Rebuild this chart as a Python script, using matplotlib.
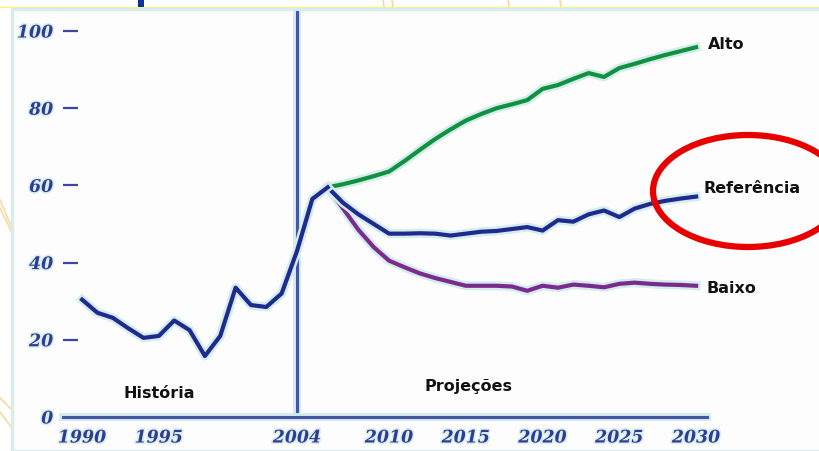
import matplotlib
matplotlib.use("Agg")
import matplotlib.pyplot as plt
import matplotlib.patheffects as pe
from matplotlib.patches import Ellipse, Rectangle
from matplotlib.lines import Line2D

# ---- data ----
hist_years = list(range(1990, 2007))
hist_vals = [30.4, 27.0, 25.7, 23.0, 20.5, 21.0, 25.0, 22.5, 15.8, 21.0,
             33.5, 29.0, 28.5, 32.0, 43.0, 56.5, 59.5]

proj_years = list(range(2006, 2031))
alto = [59.5, 60.3, 61.3, 62.4, 63.6, 66.3, 69.2, 72.0, 74.5, 76.8,
        78.5, 80.0, 81.0, 82.1, 85.0, 86.0, 87.6, 89.1, 88.1, 90.4,
        91.5, 92.7, 93.8, 94.8, 95.8]
referencia = [59.5, 55.5, 52.5, 50.0, 47.5, 47.5, 47.6, 47.5, 47.0, 47.5,
              48.0, 48.2, 48.7, 49.2, 48.3, 51.0, 50.6, 52.5, 53.5, 51.8,
              54.0, 55.2, 56.0, 56.6, 57.1]
baixo = [59.5, 54.0, 48.5, 44.0, 40.5, 38.8, 37.2, 36.0, 35.0, 34.0,
         34.0, 34.0, 33.8, 32.7, 34.0, 33.5, 34.3, 34.0, 33.6, 34.5,
         34.8, 34.5, 34.3, 34.2, 34.0]

xtick_years = [1990, 1995, 2004, 2010, 2015, 2020, 2025, 2030]
ytick_vals = [0, 20, 40, 60, 80, 100]
split_year = 2004

series_labels = ["Alto", "Referência", "Baixo"]
period_labels = ["História", "Projeções"]

# ---- figure ----
W, H = 819, 451
fig = plt.figure(figsize=(W / 100, H / 100), dpi=100)
fig.patch.set_facecolor("white")

def fx(px):
    return px / W

def fy(py):
    return 1 - py / H

# slide decorations behind the chart panel
deco = "#f8d8a0"
for (x0, y0, x1, y1) in [(0, 200, 12, 228), (0, 208, 12, 233), (0, 398, 12, 410),
                         (0, 412, 12, 428), (383, 0, 384, 7), (392, 0, 393, 7),
                         (508, 0, 509, 7), (560, 0, 561, 7)]:
    fig.add_artist(Line2D([fx(x0), fx(x1)], [fy(y0), fy(y1)], color=deco, lw=1.2,
                          zorder=-10))
fig.add_artist(Line2D([fx(0), fx(W)], [fy(7), fy(7)], color="#fff27a", lw=1.0, zorder=-10))
fig.add_artist(Rectangle((fx(138), fy(7)), fx(6), 7 / H, color="#1030a0", lw=0, zorder=-10))

# chart panel
fig.add_artist(Rectangle((fx(12), 0), fx(W - 12) + 0.01, fy(9), facecolor="#fdfdfd",
                         edgecolor="#d8ecec", lw=2.5, zorder=-9))

# axes placed so that 0 sits at y=417 px and the axis runs from x=63 to 707 px
ax = fig.add_axes([fx(63), fy(417), fx(707 - 63), (417 - 11) / H])
ax.set_facecolor("none")
px_per_year = 15.35
ax.set_xlim(split_year - (297 - 63) / px_per_year, split_year + (707 - 297) / px_per_year)
ax.set_ylim(0, (417 - 11) / 3.86)

halo = "#d4ecec"
def glow(w):
    return [pe.Stroke(linewidth=w + 3.5, foreground=halo), pe.Normal()]

blue = "#1e2a8e"
green = "#0f9140"
purple = "#7b2b8e"
lw = 3.0

ax.axvline(split_year, color="#4656a6", lw=2.2, path_effects=glow(2.2), zorder=2)
ax.plot(proj_years, alto, color=green, lw=lw, path_effects=glow(lw), zorder=3,
        solid_joinstyle="round")
ax.plot(proj_years, baixo, color=purple, lw=lw, path_effects=glow(lw), zorder=3,
        solid_joinstyle="round")
ax.plot(proj_years, referencia, color=blue, lw=lw, path_effects=glow(lw), zorder=4,
        solid_joinstyle="round")
ax.plot(hist_years, hist_vals, color=blue, lw=lw, path_effects=glow(lw), zorder=4,
        solid_joinstyle="round")

for s in ["top", "right", "left"]:
    ax.spines[s].set_visible(False)
ax.spines["bottom"].set_color("#4656a6")
ax.spines["bottom"].set_linewidth(2.2)
ax.spines["bottom"].set_path_effects(glow(2.2))

tick_font = dict(family="DejaVu Serif", style="italic", weight="bold", size=12.5)
tick_color = "#2d3c95"
ax.set_yticks(ytick_vals)
ax.set_yticklabels([str(v) for v in ytick_vals], color=tick_color, **tick_font)
ax.tick_params(axis="y", direction="in", length=11, width=1.6, color="#3a48a0", pad=7)
ax.set_xticks(xtick_years)
ax.set_xticklabels([str(v) for v in xtick_years], color=tick_color, **tick_font)
ax.tick_params(axis="x", length=0, pad=9)
for t in ax.get_xticklabels() + ax.get_yticklabels():
    t.set_path_effects([pe.Stroke(linewidth=2.5, foreground="#dcefef"), pe.Normal()])

label_font = dict(family="DejaVu Sans", weight="bold", size=11.5, color="#111111")
ends = [alto[-1], referencia[-1], baixo[-1]]
offsets_px = [(12, 3), (7, 8), (10, -3)]
for name, val, (dx, dy) in zip(series_labels, ends, offsets_px):
    ax.annotate(name, xy=(proj_years[-1], val), xytext=(dx * 0.72, dy * 0.72),
                textcoords="offset points", ha="left", va="center", **label_font)

ax.text(1995.0, 6.2, period_labels[0], ha="center", va="center", **label_font)
ax.text(2015.2, 7.8, period_labels[1], ha="center", va="center", **label_font)

# highlight ring around the reference scenario label
fig.add_artist(Ellipse((fx(748), fy(191)), fx(190), 112 / H, fill=False,
                       edgecolor="#e80000", lw=4.5, zorder=10))

fig.savefig("out.png", dpi=100, facecolor=fig.get_facecolor())
